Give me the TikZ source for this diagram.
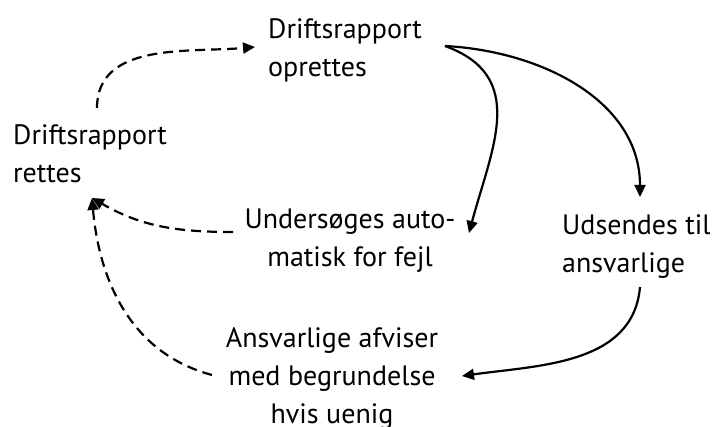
\documentclass[tikz,border=0pt]{standalone}
\usepackage{fontspec}
\setmainfont{PT Sans}
\usetikzlibrary{arrows.meta}
\newcommand{\lines}[2]{\begin{tabular}[t]{@{}#1@{}}#2\end{tabular}}
\begin{document}
\begin{tikzpicture}[x=1pt,y=1pt,
  lbl/.style={inner sep=0pt, font=\fontsize{28}{38}\selectfont},
  conn/.style={line width=2.2pt, -{Triangle[length=12pt,width=11pt]}},
  dconn/.style={conn, dash pattern=on 10pt off 6pt}]
\useasboundingbox (0,0) rectangle (714,-427);

\node[lbl,anchor=base west] (opr) at (268,-39) {\lines{l}{Driftsrapport\\oprettes}};
\node[lbl,anchor=base west] (ret) at (13,-145) {\lines{l}{Driftsrapport\\rettes}};
\node[lbl,anchor=base] (und) at (350,-229) {\lines{c}{Undersøges auto-\\matisk for fejl}};
\node[lbl,anchor=base west] (uds) at (562,-235) {\lines{l}{Udsendes til\\ansvarlige}};
\node[lbl,anchor=base] (afv) at (332,-347) {\lines{c}{Ansvarlige afviser\\med begrundelse\\hvis uenig}};

\coordinate (retTop) at (97,-108);
\coordinate (oprIn) at (255,-47);
\coordinate (oprOut) at (445,-46);
\coordinate (undIn) at (469,-233);
\coordinate (undOut) at (233,-232);
\coordinate (retIn) at (92,-198);
\coordinate (udsIn) at (640,-197);
\coordinate (udsOut) at (640,-287);
\coordinate (afvIn) at (462,-376);
\coordinate (afvOut) at (212,-375);

\draw[dconn] (retTop) to[out=90,in=185] (oprIn);
\draw[conn] (oprOut) to[out=-3,in=90] (udsIn);
\draw[conn] (oprOut) to[out=-20,in=75,looseness=1.2] (undIn);
\draw[dconn] (undOut) to[out=180,in=-30] (retIn);
\draw[conn] (udsOut) to[out=-95,in=8] (afvIn);
\draw[dconn] (afvOut) to[out=165,in=-85] (retIn);
\end{tikzpicture}
\end{document}
